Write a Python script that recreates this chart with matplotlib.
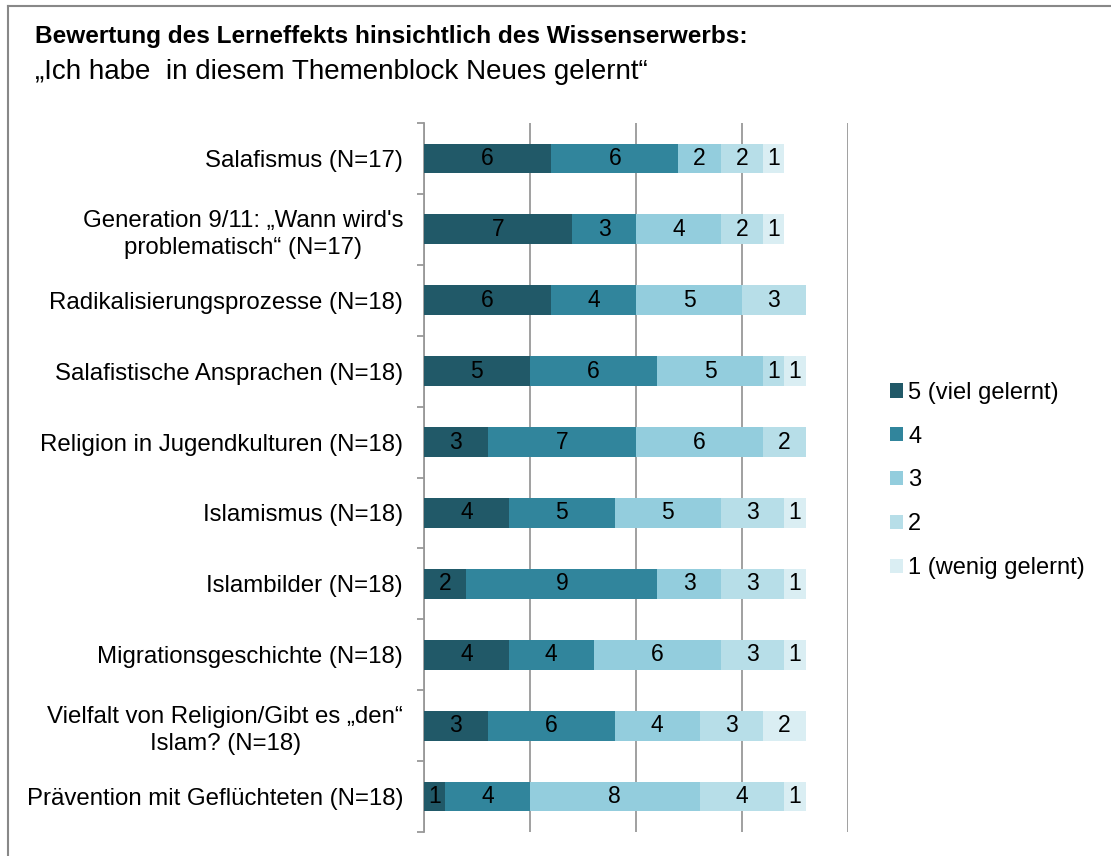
import numpy as np
import matplotlib
matplotlib.use('Agg')
import matplotlib.pyplot as plt
from matplotlib.lines import Line2D

plt.rcParams['font.family'] = ['Liberation Sans', 'DejaVu Sans']

# Kategorien (von oben nach unten)
kategorien = [
    'Salafismus (N=17)',
    'Generation 9/11: \u201eWann wird\'s\nproblematisch\u201c (N=17)',
    'Radikalisierungsprozesse (N=18)',
    'Salafistische Ansprachen (N=18)',
    'Religion in Jugendkulturen (N=18)',
    'Islamismus (N=18)',
    'Islambilder (N=18)',
    'Migrationsgeschichte (N=18)',
    'Vielfalt von Religion/Gibt es \u201eden\u201c\nIslam? (N=18)',
    'Pr\u00e4vention mit Gefl\u00fcchteten (N=18)',
]

# Anzahl Antworten je Stufe
stufe5 = [6, 7, 6, 5, 3, 4, 2, 4, 3, 1]
stufe4 = [6, 3, 4, 6, 7, 5, 9, 4, 6, 4]
stufe3 = [2, 4, 5, 5, 6, 5, 3, 6, 4, 8]
stufe2 = [2, 2, 3, 1, 2, 3, 3, 3, 3, 4]
stufe1 = [1, 1, 0, 1, 0, 1, 1, 1, 2, 1]

serien = [stufe5, stufe4, stufe3, stufe2, stufe1]
legende = ['5 (viel gelernt)', '4', '3', '2', '1 (wenig gelernt)']
farben = ['#215968', '#31859C', '#93CDDD', '#B7DEE8', '#DAEEF3']

fig = plt.figure(figsize=(11.11, 8.56), dpi=100)
ax = fig.add_axes([0.3816, 0.028, 0.3817, 0.8283])

y = np.arange(len(kategorien))
links = np.zeros(len(kategorien))
handles = []
for werte, farbe, name in zip(serien, farben, legende):
    werte = np.array(werte)
    bars = ax.barh(y, werte, left=links, height=0.42, color=farbe, label=name, zorder=3)
    beschriftung = [str(v) if v > 0 else '' for v in werte]
    ax.bar_label(bars, labels=beschriftung, label_type='center', fontsize=16.5, color='black')
    handles.append(bars)
    links += werte

ax.set_xlim(0, 20)
ax.set_ylim(len(kategorien) - 0.5, -0.5)
ax.set_xticks([0, 5, 10, 15, 20])
ax.set_xticklabels([])
ax.tick_params(axis='x', length=0)
ax.xaxis.grid(True, color='#999999', linewidth=1.3, zorder=0)

ax.set_yticks(y)
ax.set_yticklabels(kategorien, fontsize=17.3)
for lab in ax.get_yticklabels():
    lab.set_multialignment('center')
    lab.set_linespacing(1.3)
ax.tick_params(axis='y', length=0, pad=15)
ax.set_yticks(np.arange(-0.5, len(kategorien)), minor=True)
ax.tick_params(axis='y', which='minor', length=5, color='#999999', width=1.3)

for s in ['top', 'right', 'bottom']:
    ax.spines[s].set_visible(False)
ax.spines['left'].set_color('#999999')
ax.spines['left'].set_linewidth(1.3)
ax.set_axisbelow(True)

fig.legend(handles=handles, labels=legende, loc='center left',
           bbox_to_anchor=(0.793, 0.4387), frameon=False, fontsize=17,
           handlelength=0.55, handleheight=0.55, handletextpad=0.2,
           labelspacing=0.925, borderaxespad=0)

fig.text(0.0315, 0.950, 'Bewertung des Lerneffekts hinsichtlich des Wissenserwerbs:',
         fontsize=17.6, fontweight='bold', ha='left', va='baseline')
fig.text(0.0315, 0.908, '\u201eIch habe  in diesem Themenblock Neues gelernt\u201c',
         fontsize=20, ha='left', va='baseline')

# Rahmen (rechts und unten abgeschnitten)
fig.add_artist(Line2D([0.0072, 1.0], [0.993, 0.993], transform=fig.transFigure,
                      color='#888888', linewidth=1.5))
fig.add_artist(Line2D([0.0072, 0.0072], [0.0, 0.993], transform=fig.transFigure,
                      color='#888888', linewidth=1.5))

fig.savefig('out.png', dpi=100)
